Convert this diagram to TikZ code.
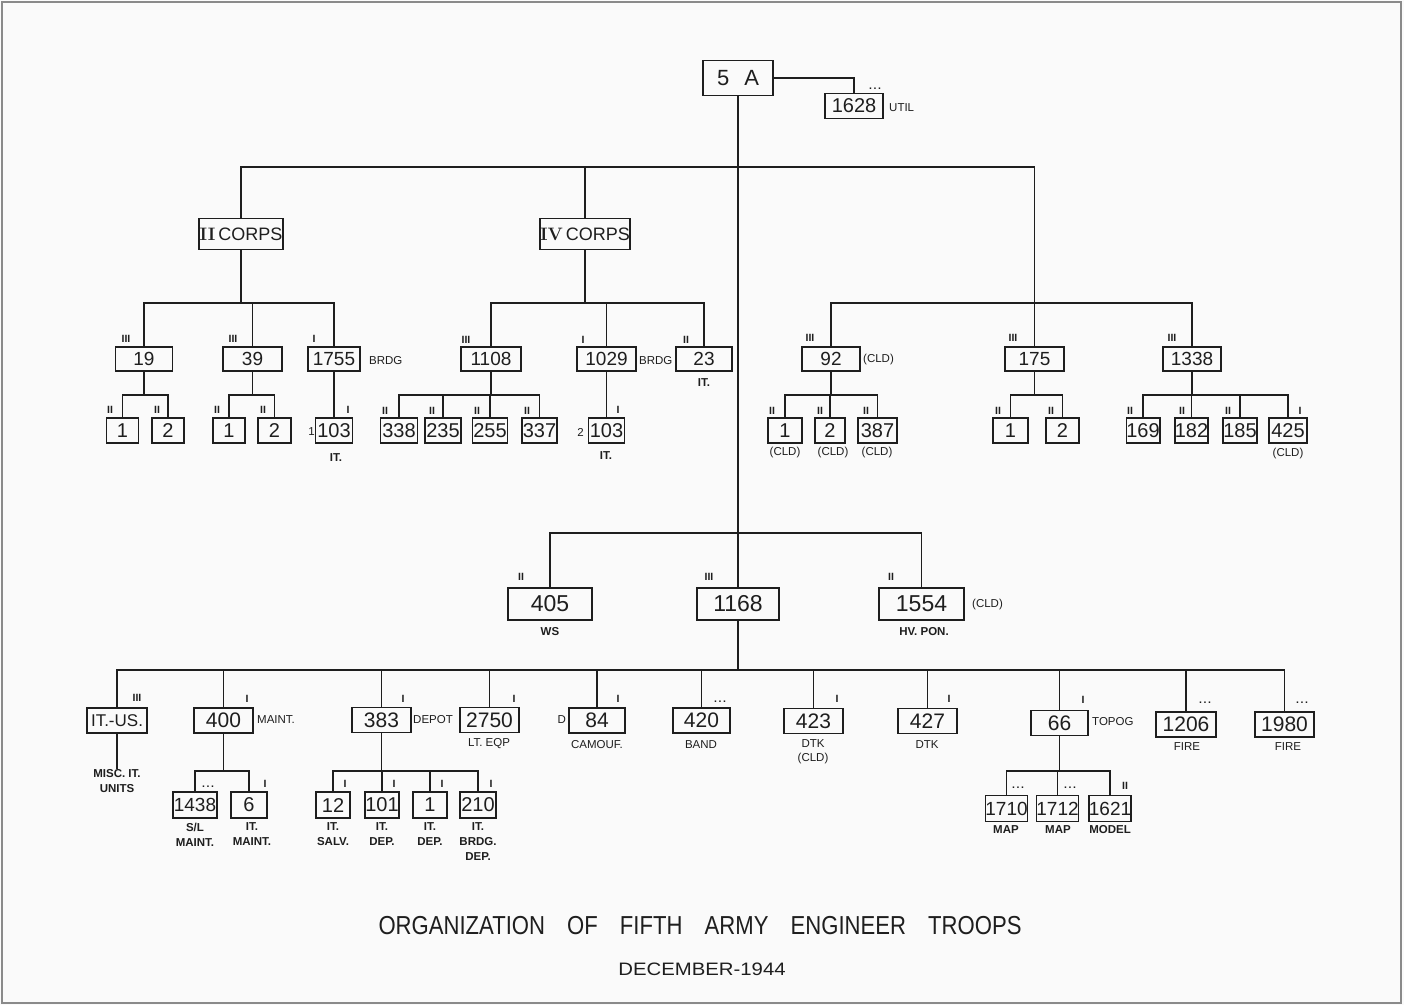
\documentclass[tikz,border=0pt]{standalone}
\usepackage{fontspec}
\setsansfont{Liberation Sans}
\usepackage{graphicx}
\usepackage{tikz}
\definecolor{OrgInk}{HTML}{1E1E1E}
\definecolor{OrgPaper}{HTML}{FAFAFA}
\definecolor{OrgFrame}{HTML}{8A8A8A}
\newcommand{\echdots}{.\kern1.6pt.\kern1.6pt.}

\begin{document}
\begin{tikzpicture}[
  x=1pt,
  y=-1pt,
  unit/.style={
    draw=OrgInk,
    line width=1.6pt,
    inner sep=0pt,
    minimum height=24,
    text=OrgInk,
    font=\sffamily\fontsize{19}{19}\selectfont
  },
  subunit/.style={unit, minimum height=25, font=\sffamily\fontsize{20}{20}\selectfont},
  svcunit/.style={unit, minimum height=25, font=\sffamily\fontsize{21}{21}\selectfont},
  bigunit/.style={unit, minimum height=32, font=\sffamily\fontsize{23}{23}\selectfont},
  ech/.style={inner sep=0pt, text=OrgInk, font=\sffamily\bfseries\fontsize{10.5}{10.5}\selectfont},
  note/.style={inner sep=0pt, text=OrgInk, align=center, font=\sffamily\fontsize{11.5}{14}\selectfont},
  sub/.style={inner sep=0pt, text=OrgInk, align=center, font=\sffamily\bfseries\fontsize{11.5}{15}\selectfont},
  caption/.style={inner sep=0pt, text=OrgInk},
  link/.style={draw=OrgInk, line width=1.4pt}
]

\useasboundingbox (0,0) rectangle (1404,1005);
\fill[OrgPaper] (0,0) rectangle (1404,1005);
\draw[OrgFrame, line width=1.5pt] (2,2) rectangle (1401,1003);

\coordinate (barA) at (0,167);
\coordinate (barB) at (0,303);
\coordinate (barC) at (0,395);
\coordinate (barD) at (0,533);
\coordinate (barE) at (0,670);
\coordinate (barF) at (0,771);

\node[unit, minimum width=70, minimum height=35, font=\sffamily\fontsize{22}{22}\selectfont] (a5) at (738,78) {5\hspace{15pt}A};
\node[unit, minimum width=58, minimum height=25, font=\sffamily\fontsize{20}{20}\selectfont] (u1628) at (854,106) {1628};

\node[unit, minimum width=84, minimum height=31, font=\sffamily\fontsize{18}{18}\selectfont] (c2) at (241,234) {{\rmfamily\bfseries II}\,CORPS};
\node[unit, minimum width=86, minimum height=31, font=\sffamily\fontsize{18}{18}\selectfont] (c4) at (585,234) {{\rmfamily\bfseries IV}\,CORPS};

\node[unit, minimum width=57] (u19) at (144,359) {19};
\node[unit, minimum width=59] (u39) at (252.5,359) {39};
\node[unit, minimum width=52] (u1755) at (334,359) {1755};
\node[unit, minimum width=60] (u1108) at (491,359) {1108};
\node[unit, minimum width=59] (u1029) at (606.5,359) {1029};
\node[unit, minimum width=56] (u23) at (704,359) {23};
\node[unit, minimum width=58] (u92) at (831,359) {92};
\node[unit, minimum width=59] (u175) at (1034.5,359) {175};
\node[unit, minimum width=58] (u1338) at (1192,359) {1338};

\node[subunit, minimum width=32] (u19a) at (122.5,430.5) {1};
\node[subunit, minimum width=32] (u19b) at (168,430.5) {2};
\node[subunit, minimum width=32] (u39a) at (229,430.5) {1};
\node[subunit, minimum width=33] (u39b) at (274.5,430.5) {2};
\node[subunit, minimum width=37] (u103a) at (334,430.5) {103};
\node[subunit, minimum width=37] (u338) at (399,430.5) {338};
\node[subunit, minimum width=36] (u235) at (443,430.5) {235};
\node[subunit, minimum width=35] (u255) at (490,430.5) {255};
\node[subunit, minimum width=35] (u337) at (539.5,430.5) {337};
\node[subunit, minimum width=36] (u103b) at (606.5,430.5) {103};
\node[subunit, minimum width=34] (u92a) at (785,430.5) {1};
\node[subunit, minimum width=30] (u92b) at (830,430.5) {2};
\node[subunit, minimum width=39] (u387) at (877.5,430.5) {387};
\node[subunit, minimum width=35] (u175a) at (1010.5,430.5) {1};
\node[subunit, minimum width=33] (u175b) at (1062.5,430.5) {2};
\node[subunit, minimum width=33] (u169) at (1143,430.5) {169};
\node[subunit, minimum width=33] (u182) at (1191.5,430.5) {182};
\node[subunit, minimum width=34] (u185) at (1240,430.5) {185};
\node[subunit, minimum width=38] (u425) at (1288,430.5) {425};

\node[bigunit, minimum width=84] (u405) at (550,604) {405};
\node[bigunit, minimum width=82] (u1168) at (738,604) {1168};
\node[bigunit, minimum width=85] (u1554) at (921.5,604) {1554};

\node[svcunit, minimum width=60, font=\sffamily\fontsize{17}{17}\selectfont] (uITUS) at (117,720.5) {IT.-US.};
\node[svcunit, minimum width=59] (u400) at (223.5,720.5) {400};
\node[svcunit, minimum width=59] (u383) at (381.5,720) {383};
\node[svcunit, minimum width=59] (u2750) at (489.5,720) {2750};
\node[svcunit, minimum width=56] (u84) at (597,720.5) {84};
\node[svcunit, minimum width=57] (u420) at (701.5,720.5) {420};
\node[svcunit, minimum width=59] (u423) at (813.5,721) {423};
\node[svcunit, minimum width=59] (u427) at (927.5,721) {427};
\node[svcunit, minimum width=57] (u66) at (1059.5,723) {66};
\node[svcunit, minimum width=60] (u1206) at (1186,724.5) {1206};
\node[svcunit, minimum width=59] (u1980) at (1284.5,724.5) {1980};

\node[subunit, minimum width=44, minimum height=26, font=\sffamily\fontsize{19}{19}\selectfont] (u1438) at (195,805) {1438};
\node[subunit, minimum width=36, minimum height=26] (u6) at (249,805) {6};
\node[subunit, minimum width=34, minimum height=26] (u12) at (333,805) {12};
\node[subunit, minimum width=34, minimum height=26] (u101) at (382,805) {101};
\node[subunit, minimum width=34, minimum height=26] (u1b) at (430,805) {1};
\node[subunit, minimum width=36, minimum height=26] (u210) at (478,805) {210};
\node[subunit, minimum width=39, minimum height=26, font=\sffamily\fontsize{19}{19}\selectfont] (u1710) at (1006.5,808.5) {1710};
\node[subunit, minimum width=39, minimum height=26, font=\sffamily\fontsize{19}{19}\selectfont] (u1712) at (1057.5,808.5) {1712};
\node[subunit, minimum width=40, minimum height=26, font=\sffamily\fontsize{19}{19}\selectfont] (u1621) at (1110,808.5) {1621};

\foreach \n/\x/\y/\t in {1628/875/89/\echdots,
    19/126/339/III, 39/233/339/III, 1755/314/339/I, 1108/466/340/III, 1029/583/340/I,
    23/686/340/II, 92/810/338/III, 175/1013/338/III, 1338/1172/338/III,
    19a/110/410/II, 19b/157/410/II, 39a/217/410/II, 39b/263/410/II, 103a/348/410/I,
    338/385/411/II, 235/432/411/II, 255/477/411/II, 337/527/411/II, 103b/618/410/I,
    92a/772/411/II, 92b/820/411/II, 387/866/411/II, 175a/998/411/II, 175b/1051/411/II,
    169/1130/411/II, 182/1182/411/II, 185/1228/411/II, 425/1300/411/I,
    405/521/577/II, 1168/709/577/III, 1554/891/577/II,
    ITUS/137/698/III, 400/247/699/I, 383/403/699/I, 2750/514/699/I, 84/618/699/I,
    420/720/702/\echdots, 423/837/699/I, 427/949/699/I, 66/1083/700/I,
    1206/1205/703/\echdots, 1980/1302/703/\echdots,
    1438/208/787/\echdots, 6/265/784/I, 12/345/784/I, 101/394/784/I, 1b/442/784/I,
    210/491/784/I, 1710/1018/788/\echdots, 1712/1070/788/\echdots, 1621/1125/786/II}
  \node[ech] (e\n) at (\x,\y) {\t};

\node[note, anchor=west] (tUtil) at (889,108) {UTIL};
\node[note, anchor=west] (t1755) at (369,361) {BRDG};
\node[note, anchor=west] (t1029) at (639,361) {BRDG};
\node[note, anchor=west] (t92) at (863,360) {(CLD)};
\node[note, anchor=west] (t1554) at (972,605) {(CLD)};
\node[note, anchor=west] (t400) at (257,720) {MAINT.};
\node[note, anchor=west] (t383) at (413,720) {DEPOT};
\node[note, anchor=west] (t66) at (1092,722) {TOPOG};
\node[note, anchor=east] (t84) at (566,720) {D};
\node[note, anchor=east] (t103a) at (315,432) {1};
\node[note, anchor=east] (t103b) at (584,432) {2};

\node[sub] (l103a) at (336,458) {IT.};
\node[sub] (l103b) at (606,456) {IT.};
\node[sub] (l23) at (704,383) {IT.};
\node[note] (l92a) at (785,453) {(CLD)};
\node[note] (l92b) at (833,453) {(CLD)};
\node[note] (l387) at (877,453) {(CLD)};
\node[note] (l425) at (1288,454) {(CLD)};
\node[sub] (l405) at (550,632) {WS};
\node[sub] (l1554) at (924,632) {HV. PON.};
\node[sub] (lMisc) at (117,781) {MISC. IT.\\UNITS};
\node[note] (l2750) at (489,744) {LT. EQP};
\node[note] (l84) at (597,745) {CAMOUF.};
\node[note] (l420) at (701,745) {BAND};
\node[note] (l423) at (813,752) {DTK\\(CLD)};
\node[note] (l427) at (927,745) {DTK};
\node[note] (l1206) at (1187,747) {FIRE};
\node[note] (l1980) at (1288,747) {FIRE};
\node[sub] (l1438) at (195,834.5) {S/L\\MAINT.};
\node[sub] (l6) at (252,834.5) {IT.\\MAINT.};
\node[sub] (l12) at (333,834.5) {IT.\\SALV.};
\node[sub] (l101) at (382,834.5) {IT.\\DEP.};
\node[sub] (l1b) at (430,834.5) {IT.\\DEP.};
\node[sub] (l210) at (478,842) {IT.\\BRDG.\\DEP.};
\node[sub] (l1710) at (1006,830) {MAP};
\node[sub] (l1712) at (1058,830) {MAP};
\node[sub] (l1621) at (1110,830) {MODEL};

\draw[link] (a5.east) -| (u1628.north);
\draw[link] (a5.south) -- (u1168.north);
\draw[link] (c2.north) -- (c2.north |- barA) -- (u175.north |- barA) -- (u175.north);
\draw[link] (c4.north) -- (c4.north |- barA);

\foreach \p/\l/\r in {c2/u19/u1755, c4/u1108/u23}
  \draw[link] (\p.south) -- (\p.south |- barB) (\l.north) -- (\l.north |- barB) -- (\r.north |- barB) -- (\r.north);
\draw[link] (u92.north) -- (u92.north |- barB) -- (u1338.north |- barB) -- (u1338.north);
\foreach \c in {u39, u1029}
  \draw[link] (\c.north) -- (\c.north |- barB);

\foreach \p/\l/\r in {u19/u19a/u19b, u39/u39a/u39b, u1108/u338/u337, u92/u92a/u387, u175/u175a/u175b, u1338/u169/u425}
  \draw[link] (\p.south) -- (\p.south |- barC) (\l.north) -- (\l.north |- barC) -- (\r.north |- barC) -- (\r.north);
\foreach \c in {u235, u255, u92b, u182, u185}
  \draw[link] (\c.north) -- (\c.north |- barC);
\draw[link] (u1755.south) -- (u103a.north);
\draw[link] (u1029.south) -- (u103b.north);

\draw[link] (u405.north) -- (u405.north |- barD) -- (u1554.north |- barD) -- (u1554.north);

\draw[link] (u1168.south) -- (u1168.south |- barE) (uITUS.north) -- (uITUS.north |- barE) -- (u1980.north |- barE) -- (u1980.north);
\foreach \c in {u400, u383, u2750, u84, u420, u423, u427, u66, u1206}
  \draw[link] (\c.north) -- (\c.north |- barE);
\draw[link] (uITUS.south) -- (lMisc.north);

\foreach \p/\l/\r in {u400/u1438/u6, u383/u12/u210, u66/u1710/u1621}
  \draw[link] (\p.south) -- (\p.south |- barF) (\l.north) -- (\l.north |- barF) -- (\r.north |- barF) -- (\r.north);
\foreach \c in {u101, u1b, u1712}
  \draw[link] (\c.north) -- (\c.north |- barF);

\node[caption, font=\sffamily\fontsize{26}{26}\selectfont] (title) at (700,926)
  {\scalebox{0.85}[1]{ORGANIZATION\hspace{26pt}OF\hspace{26pt}FIFTH\hspace{26pt}ARMY\hspace{26pt}ENGINEER\hspace{26pt}TROOPS}};
\node[caption, font=\sffamily\fontsize{18}{18}\selectfont] (date) at (702,969)
  {\scalebox{1.13}[1]{DECEMBER-1944}};

\end{tikzpicture}
\end{document}
